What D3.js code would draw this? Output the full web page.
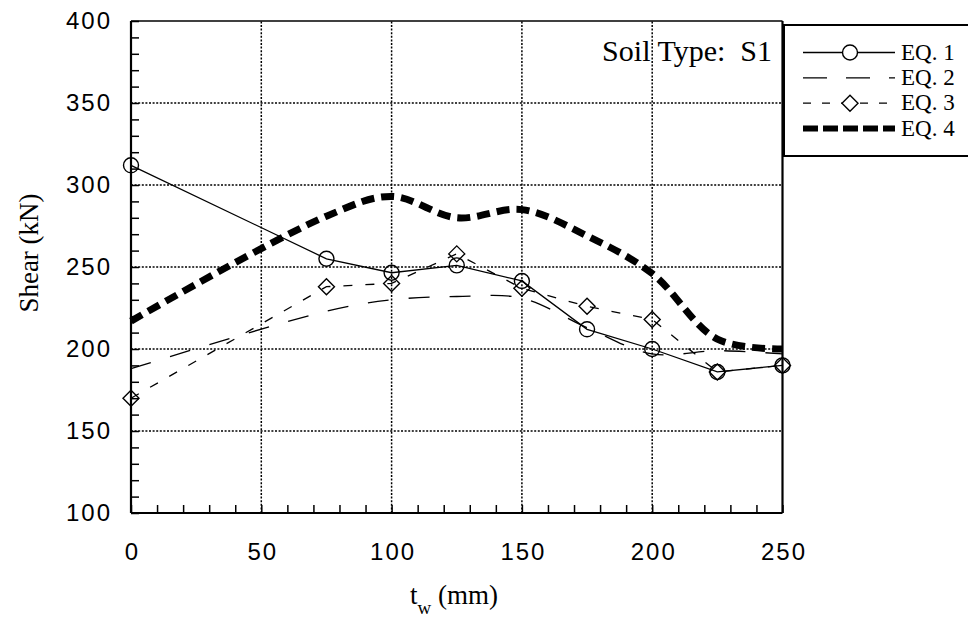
<!DOCTYPE html>
<html>
<head>
<meta charset="utf-8">
<script src="https://cdn.jsdelivr.net/npm/d3@7/dist/d3.min.js"></script>
<style>
  html, body { margin: 0; padding: 0; background: #fff; }
  svg { display: block; }
  .serif { font-family: "Liberation Serif", "Times New Roman", serif; }
  .sans { font-family: "Liberation Sans", Arial, Helvetica, sans-serif; }
</style>
</head>
<body>
<svg id="chart" width="968" height="624"></svg>
<script>
// Wall thickness t_w (mm) at which each equation was evaluated
const tw = [0, 75, 100, 125, 150, 175, 200, 225, 250];

// Shear (kN) predicted by each equation
const eq1 = [312, 255, 246.5, 251, 241.5, 212, 200, 186, 190];
const eq2 = [188, 223, 230, 232, 231, 213, 197, 199, 197];
const eq3 = [170, 238, 240, 258, 237, 226, 218, 186, 190];
const eq4 = [217, 281, 293, 280, 285, 269, 246, 206, 200];

const seriesNames = ["EQ. 1", "EQ. 2", "EQ. 3", "EQ. 4"];
const xTickLabels = [0, 50, 100, 150, 200, 250];
const yTickLabels = [100, 150, 200, 250, 300, 350, 400];

const svg = d3.select("#chart");

const x = d3.scaleLinear().domain([0, 250]).range([131, 782.5]);
const y = d3.scaleLinear().domain([100, 400]).range([513, 21]);

// Dotted grid
const grid = svg.append("g")
  .attr("stroke", "#000")
  .attr("stroke-width", 1.5)
  .attr("stroke-dasharray", "2,1.6");
grid.selectAll("line.gx")
  .data(xTickLabels.filter(v => v > 0 && v < 250))
  .join("line")
  .attr("class", "gx")
  .attr("x1", d => x(d)).attr("x2", d => x(d))
  .attr("y1", y(100)).attr("y2", y(400));
grid.selectAll("line.gy")
  .data(yTickLabels.filter(v => v > 100 && v < 400))
  .join("line")
  .attr("class", "gy")
  .attr("y1", d => y(d)).attr("y2", d => y(d))
  .attr("x1", x(0)).attr("x2", x(250));

// Axes with inward minor ticks every 10 units
const xAxis = svg.append("g")
  .attr("transform", `translate(0,${y(100)})`)
  .call(d3.axisBottom(x)
    .tickValues(d3.range(0, 251, 10))
    .tickSize(-8)
    .tickPadding(30)
    .tickFormat(d => (xTickLabels.includes(d) ? d : "")));
xAxis.select(".domain").remove();
xAxis.selectAll(".tick line").attr("stroke", "#000").attr("stroke-width", 1.5);
xAxis.selectAll(".tick text")
  .attr("class", "sans")
  .attr("dx", 1)
  .style("font-size", "24px")
  .style("letter-spacing", "2px")
  .attr("fill", "#000");

const yAxis = svg.append("g")
  .attr("transform", `translate(${x(0)},0)`)
  .call(d3.axisLeft(y)
    .tickValues(d3.range(100, 401, 10))
    .tickSize(-8)
    .tickPadding(19)
    .tickFormat(d => (yTickLabels.includes(d) ? d : "")));
yAxis.select(".domain").remove();
yAxis.selectAll(".tick line").attr("stroke", "#000").attr("stroke-width", 1.5);
yAxis.selectAll(".tick text")
  .attr("class", "sans")
  .style("font-size", "24px")
  .style("letter-spacing", "2px")
  .attr("fill", "#000");

// Plot frame
const frame = svg.append("g").attr("stroke", "#000").attr("fill", "none");
frame.append("line").attr("x1", x(0)).attr("x2", x(0)).attr("y1", y(400)).attr("y2", y(100)).attr("stroke-width", 2.2);
frame.append("line").attr("x1", x(0)).attr("x2", x(250)).attr("y1", y(100)).attr("y2", y(100)).attr("stroke-width", 2.2);
frame.append("line").attr("x1", x(250)).attr("x2", x(250)).attr("y1", y(400)).attr("y2", y(100)).attr("stroke-width", 2.2);
frame.append("line").attr("x1", x(0)).attr("x2", x(250)).attr("y1", y(400)).attr("y2", y(400)).attr("stroke-width", 1.6);

// Series
const pts = vals => tw.map((t, i) => [t, vals[i]]);
const lineLinear = d3.line().x(d => x(d[0])).y(d => y(d[1]));
const lineSmooth = d3.line().x(d => x(d[0])).y(d => y(d[1])).curve(d3.curveCatmullRom.alpha(0.5));

const series = [
  { name: seriesNames[0], data: pts(eq1), gen: lineLinear, width: 1.3, dash: null, legendDash: null, marker: "circle" },
  { name: seriesNames[1], data: pts(eq2), gen: lineSmooth, width: 1.3, dash: "21,20", legendDash: "24,19", marker: null },
  { name: seriesNames[2], data: pts(eq3), gen: lineLinear, width: 1.3, dash: "9,13", legendDash: "8,11", marker: "diamond" },
  { name: seriesNames[3], data: pts(eq4), gen: lineSmooth, width: 7, dash: "13,7", legendDash: "15,5", marker: null }
];

const plot = svg.append("g");
series.forEach(s => {
  plot.append("path")
    .attr("d", s.gen(s.data))
    .attr("fill", "none")
    .attr("stroke", "#000")
    .attr("stroke-width", s.width)
    .attr("stroke-dasharray", s.dash);
});

const circleSym = d3.symbol().type(d3.symbolCircle).size(Math.PI * 7.5 * 7.5);
function diamondPath(r) {
  return `M0,${-r}L${r},0L0,${r}L${-r},0Z`;
}
series.forEach(s => {
  if (!s.marker) return;
  plot.selectAll(null)
    .data(s.data)
    .join("path")
    .attr("transform", d => `translate(${x(d[0])},${y(d[1])})`)
    .attr("d", s.marker === "circle" ? circleSym() : diamondPath(8))
    .attr("fill", "none")
    .attr("stroke", "#000")
    .attr("stroke-width", 1.4);
});

// Annotation
svg.append("text")
  .attr("class", "serif")
  .attr("x", 772).attr("y", 61)
  .attr("text-anchor", "end")
  .style("font-size", "30px")
  .text("Soil Type:\u00a0 S1");

// Legend box
const lg = svg.append("g");
lg.append("rect")
  .attr("x", 784).attr("y", 25)
  .attr("width", 200).attr("height", 131)
  .attr("fill", "#fff")
  .attr("stroke", "#000")
  .attr("stroke-width", 2);

const legendY = d3.scalePoint().domain(seriesNames).range([52.5, 128.5]);
series.forEach(s => {
  const cy = legendY(s.name);
  lg.append("line")
    .attr("x1", 803).attr("x2", 895)
    .attr("y1", cy).attr("y2", cy)
    .attr("stroke", "#000")
    .attr("stroke-width", s.width > 3 ? 6 : 1.3)
    .attr("stroke-dasharray", s.legendDash);
  if (s.marker) {
    lg.append("path")
      .attr("transform", `translate(850,${cy})`)
      .attr("d", s.marker === "circle" ? circleSym() : diamondPath(8))
      .attr("fill", "#fff")
      .attr("stroke", "#000")
      .attr("stroke-width", 1.4);
  }
  lg.append("text")
    .attr("class", "serif")
    .attr("x", 901).attr("y", cy + 7)
    .style("font-size", "23px")
    .text(s.name);
});

// Axis titles
const xt = svg.append("text")
  .attr("class", "serif")
  .attr("x", 410).attr("y", 604)
  .style("font-size", "27px");
xt.append("tspan").text("t");
xt.append("tspan").attr("dy", 10).style("font-size", "19px").text("w");
xt.append("tspan").attr("dy", -10).text(" (mm)");

svg.append("text")
  .attr("class", "serif")
  .attr("transform", "translate(38,253) rotate(-90)")
  .attr("text-anchor", "middle")
  .style("font-size", "27px")
  .text("Shear (kN)");
</script>
</body>
</html>
